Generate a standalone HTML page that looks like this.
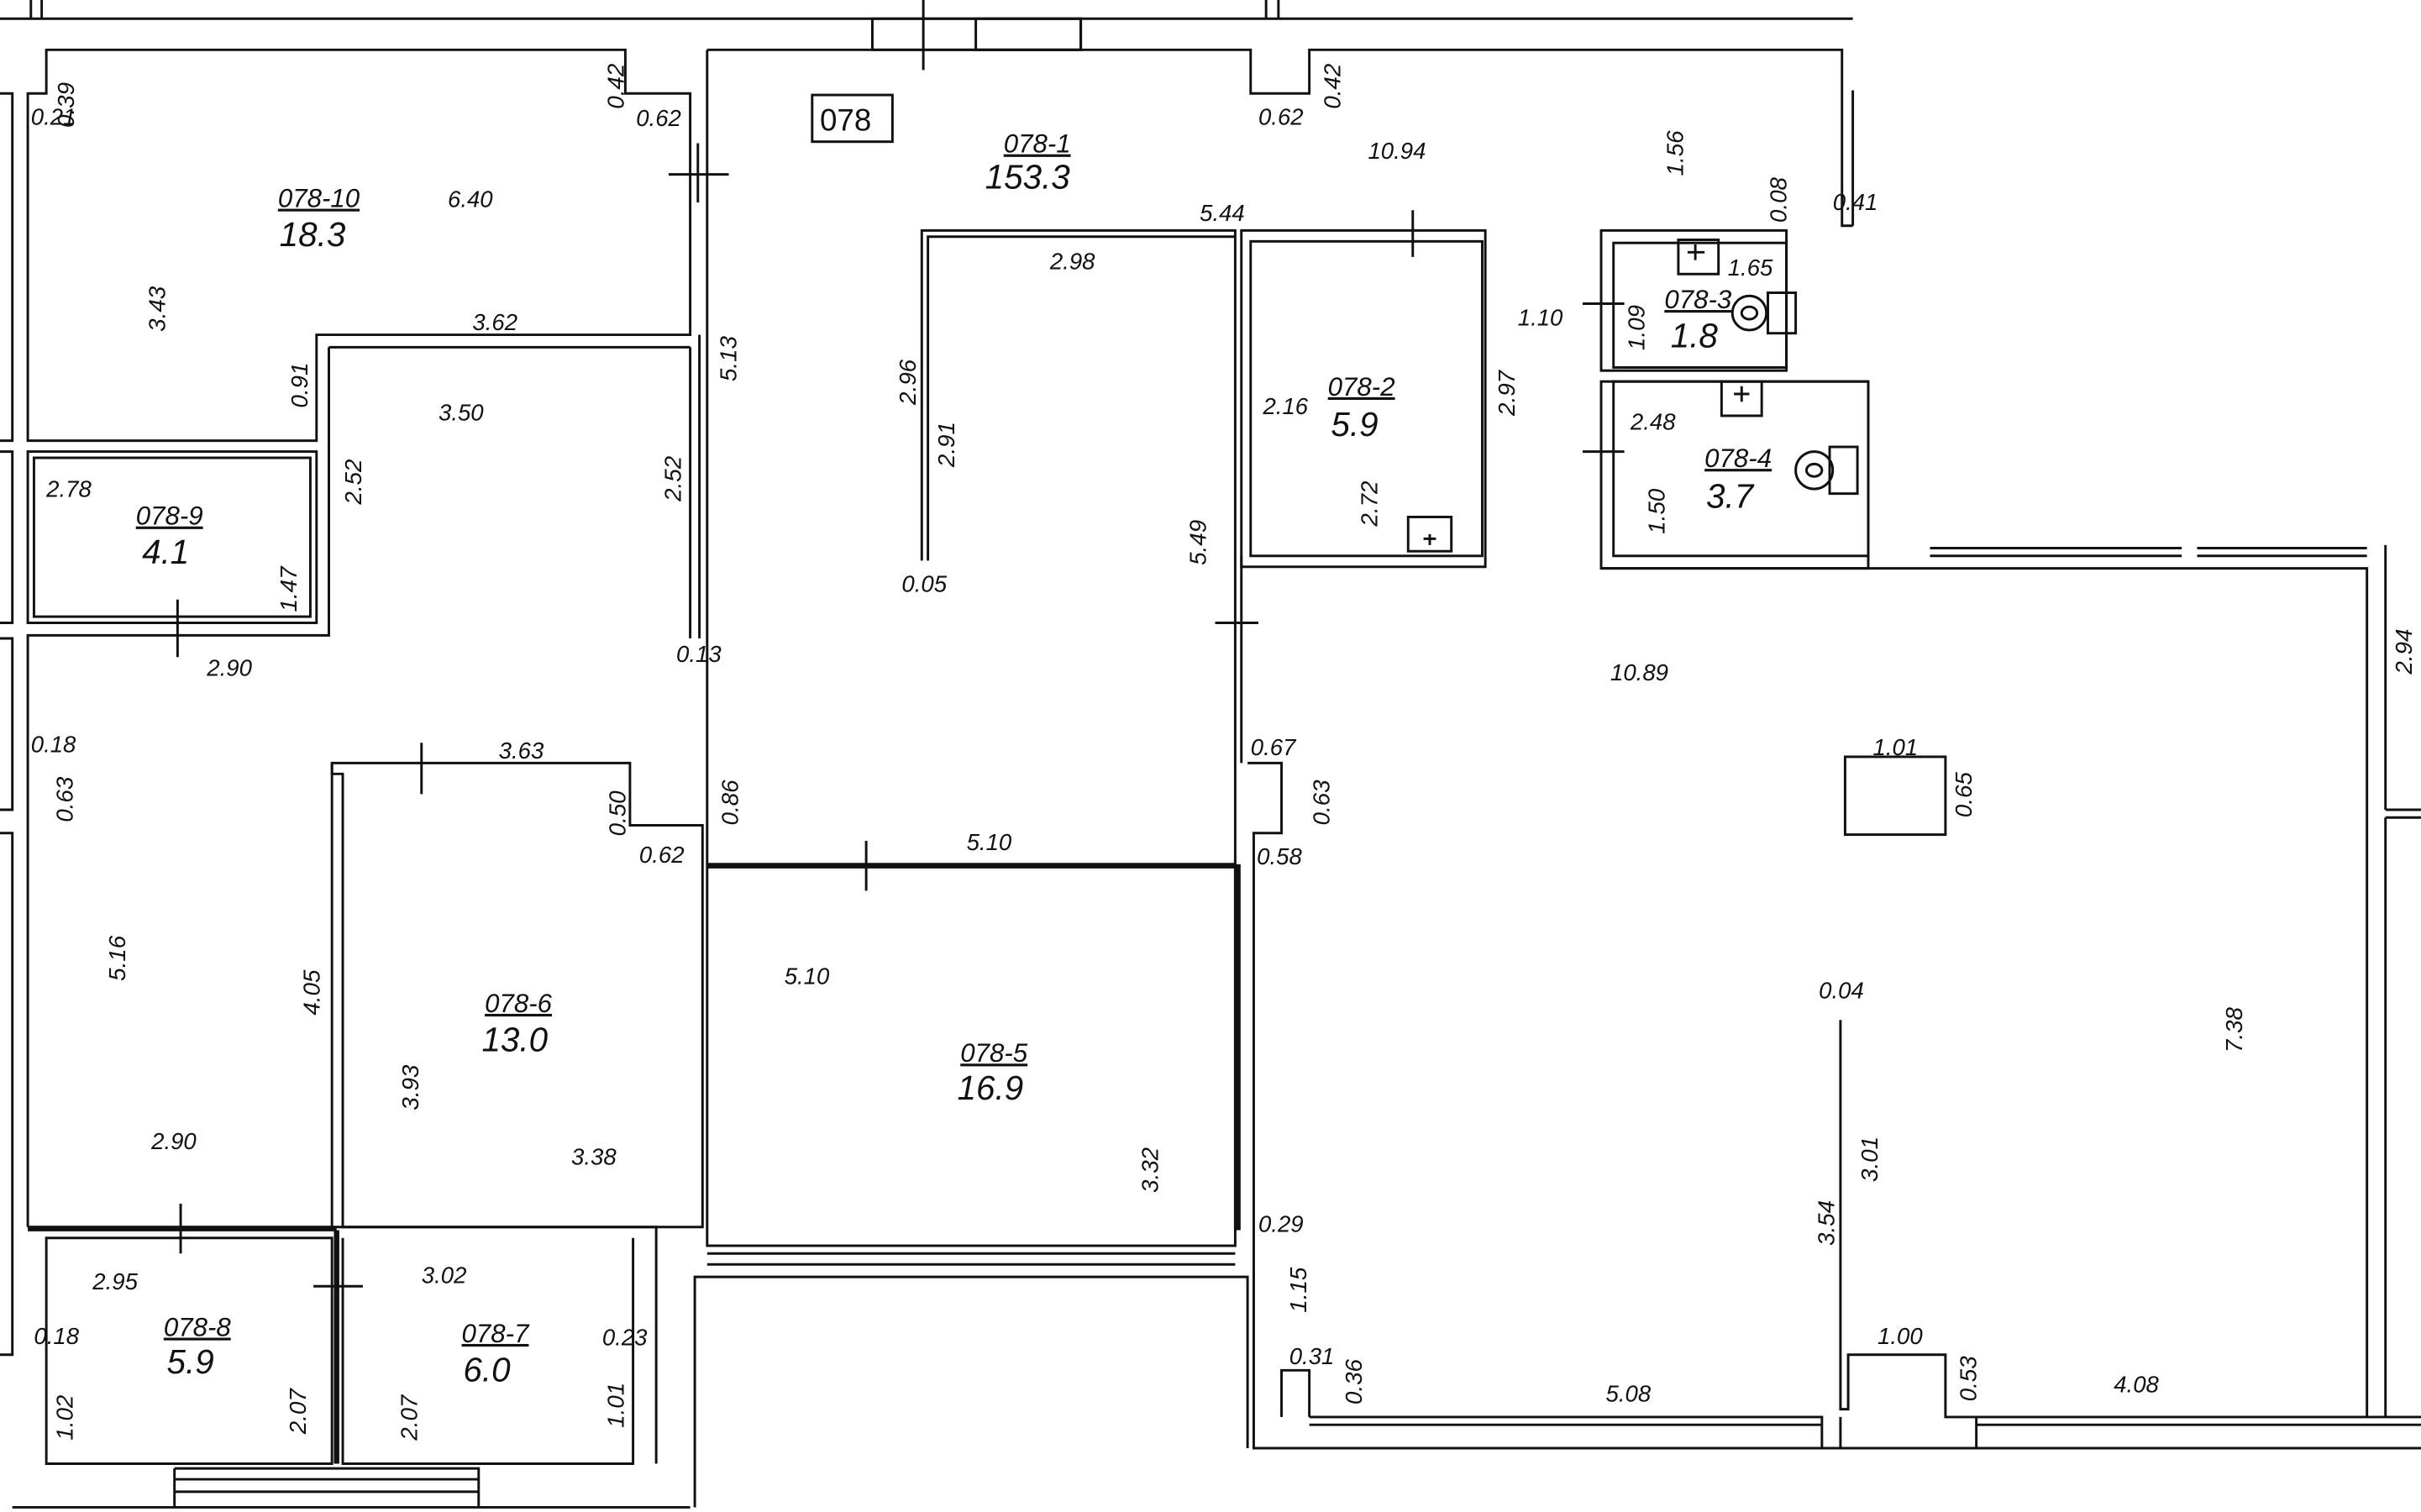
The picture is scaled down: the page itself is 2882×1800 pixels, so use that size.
<!DOCTYPE html>
<html><head><meta charset="utf-8"><style>
html,body{margin:0;padding:0;background:#fff;}
svg{display:block;}
text{font-family:"Liberation Sans",sans-serif;font-style:italic;fill:#111;}
.d{font-size:15px;}
.n{font-size:17px;text-decoration:underline;}
.a{font-size:22px;}
</style></head><body>
<svg width="2882" height="1800" viewBox="0 0 1568 971" preserveAspectRatio="none" xmlns="http://www.w3.org/2000/svg">
<g fill="none" stroke="#111" stroke-width="1.6">
<!-- top outer -->
<line x1="0" y1="12" x2="1200" y2="12"/>
<line x1="20" y1="0" x2="20" y2="12"/><line x1="27" y1="0" x2="27" y2="12"/>
<line x1="820" y1="0" x2="820" y2="12"/><line x1="828" y1="0" x2="828" y2="12"/>
<rect x="565" y="12" width="135" height="20"/>
<rect x="632" y="12" width="68" height="20"/>
<!-- left outer strips -->
<path d="M0 60 H8 V283 H0"/><path d="M0 290 H8 V400 H0"/><path d="M0 410 H8 V520 H0"/><path d="M0 535 H8 V870 H0"/>
<!-- 078-10 -->
<path d="M30 32 H405 V60 H447 V215 H205 V283 H18 V60 H30 Z"/>
<path d="M213 223 H447"/>
<!-- 078-9 -->
<rect x="18" y="290" width="187" height="110"/>
<rect x="22" y="294" width="179" height="102"/>
<!-- corridor -->
<path d="M213 223 V408 H18 V788"/>
<path d="M447 223 V410"/><path d="M458 32 V555"/><path d="M453 215 V410"/>
<!-- 078-1 top -->
<path d="M458 32 H810 V60 H848 V32 H1193 V145 H1200"/>
<path d="M1200 58 V145"/>
<!-- inner 078-1 -->
<path d="M597 360 V148 H800 V555"/><path d="M601 360 V152 H800"/>
<path d="M804 357 V490"/>
<!-- 078-2 -->
<rect x="804" y="148" width="158" height="216"/>
<rect x="810" y="155" width="150" height="202"/>
<rect x="912" y="332" width="28" height="22"/>
<!-- 078-3, 4 -->
<rect x="1037" y="148" width="120" height="90"/>
<rect x="1045" y="156" width="112" height="80"/>
<rect x="1087" y="154" width="26" height="22"/>
<rect x="1037" y="245" width="173" height="120"/>
<rect x="1045" y="245" width="165" height="112"/>
<rect x="1115" y="245" width="26" height="22"/>
<rect x="1185" y="287" width="18" height="30"/>
<ellipse cx="1175" cy="302" rx="12" ry="12"/><ellipse cx="1175" cy="302" rx="5" ry="4"/>
<rect x="1145" y="188" width="18" height="26"/>
<ellipse cx="1133" cy="201" rx="11" ry="11"/><ellipse cx="1133" cy="201" rx="5" ry="4"/>
<!-- big room -->
<path d="M1037 365 H1533 V910"/>
<path d="M1250 352 H1413 M1250 357 H1413 M1423 352 H1533 M1423 357 H1533"/>
<path d="M1545 350 V520 M1545 525 V910"/>
<path d="M1545 520 H1568 M1545 525 H1568"/>
<path d="M808 490 H830 V535 H812 V930 H1568"/>
<path d="M848 910 H1180 V930 M1192 930 V910 M1192 655 V905 H1197 V870 H1260 V910 H1568"/>
<path d="M848 915 H1180 M1280 915 H1568 M1280 910 V930"/>
<rect x="1195" y="486" width="65" height="50"/>
<path d="M830 910 V880 H848 V910"/>
<!-- 078-5 -->
<path d="M458 555 H800"/>
<line x1="458" y1="556" x2="800" y2="556" stroke-width="3.5"/>
<path d="M800 555 V790"/><line x1="802" y1="555" x2="802" y2="790" stroke-width="3"/>
<rect x="458" y="555" width="342" height="245"/>
<path d="M458 805 H800 M458 812 H800"/>
<path d="M450 968 V820 H808 V930"/>
<!-- 078-6 -->
<path d="M215 490 H408 V530 H455 V788 H222 V497 H215 Z"/>
<path d="M215 490 V788"/>
<!-- 078-8, 7 -->
<path d="M18 788 H425 V940"/>
<line x1="18" y1="789" x2="218" y2="789" stroke-width="3.5"/>
<path d="M30 795 H215 V940 H30 Z"/>
<line x1="218" y1="790" x2="218" y2="940" stroke-width="3.5"/>
<path d="M222 795 V940 H410 V795"/>
<path d="M8 968 H447 M113 943 H310 V968 M113 943 V968 M113 950 H310 M113 958 H310"/>
<!-- door ticks -->
<path d="M433 112 H472 M452 92 V130 M598 0 V45 M915 135 V165 M1025 195 H1052 M1025 290 H1052 M787 400 H815 M115 385 V422 M273 477 V510 M561 540 V572 M117 773 V805 M203 826 H235"/>
<path d="M1098 157 V167 M1093 162 H1104 M1128 248 V258 M1123 253 H1133 M926 343 V350 M922 346 H930"/>
</g>
<rect x="526" y="61" width="52" height="30" fill="none" stroke="#111" stroke-width="1.6"/>
<text x="531" y="84" style="font-size:20px;font-style:normal">078</text>
<!-- room labels -->
<text class="n" x="180" y="133">078-10</text><text class="a" x="181" y="158">18.3</text>
<text class="n" x="650" y="98">078-1</text><text class="a" x="638" y="121">153.3</text>
<text class="n" x="860" y="254">078-2</text><text class="a" x="862" y="280">5.9</text>
<text class="n" x="1078" y="198">078-3</text><text class="a" x="1082" y="223">1.8</text>
<text class="n" x="1104" y="300">078-4</text><text class="a" x="1105" y="326">3.7</text>
<text class="n" x="88" y="337">078-9</text><text class="a" x="92" y="362">4.1</text>
<text class="n" x="314" y="650">078-6</text><text class="a" x="312" y="675">13.0</text>
<text class="n" x="622" y="682">078-5</text><text class="a" x="620" y="706">16.9</text>
<text class="n" x="106" y="858">078-8</text><text class="a" x="108" y="882">5.9</text>
<text class="n" x="299" y="862">078-7</text><text class="a" x="300" y="887">6.0</text>
<!-- dims horizontal -->
<g class="d">
<text x="20" y="80">0.21</text><text x="412" y="81">0.62</text><text x="290" y="133">6.40</text>
<text x="306" y="212">3.62</text><text x="284" y="270">3.50</text><text x="30" y="319">2.78</text>
<text x="134" y="434">2.90</text><text x="438" y="425">0.13</text><text x="584" y="380">0.05</text>
<text x="680" y="173">2.98</text><text x="777" y="142">5.44</text><text x="815" y="80">0.62</text>
<text x="886" y="102">10.94</text><text x="1187" y="135">0.41</text><text x="1119" y="177">1.65</text>
<text x="983" y="209">1.10</text><text x="818" y="266">2.16</text><text x="1056" y="276">2.48</text>
<text x="1043" y="437">10.89</text><text x="1213" y="485">1.01</text><text x="810" y="485">0.67</text>
<text x="814" y="555">0.58</text><text x="20" y="483">0.18</text><text x="323" y="487">3.63</text>
<text x="414" y="554">0.62</text><text x="626" y="546">5.10</text><text x="508" y="632">5.10</text>
<text x="1178" y="641">0.04</text><text x="370" y="748">3.38</text><text x="98" y="738">2.90</text>
<text x="60" y="828">2.95</text><text x="273" y="824">3.02</text><text x="22" y="863">0.18</text>
<text x="390" y="864">0.23</text><text x="815" y="791">0.29</text><text x="835" y="876">0.31</text>
<text x="1216" y="863">1.00</text><text x="1040" y="900">5.08</text><text x="1369" y="894">4.08</text>
</g>
<!-- dims vertical -->
<g class="d">
<text transform="translate(48,82) rotate(-90)">0.39</text>
<text transform="translate(404,70) rotate(-90)">0.42</text>
<text transform="translate(868,70) rotate(-90)">0.42</text>
<text transform="translate(107,213) rotate(-90)">3.43</text>
<text transform="translate(199,262) rotate(-90)">0.91</text>
<text transform="translate(234,324) rotate(-90)">2.52</text>
<text transform="translate(441,322) rotate(-90)">2.52</text>
<text transform="translate(477,245) rotate(-90)">5.13</text>
<text transform="translate(593,260) rotate(-90)">2.96</text>
<text transform="translate(618,300) rotate(-90)">2.91</text>
<text transform="translate(781,363) rotate(-90)">5.49</text>
<text transform="translate(892,338) rotate(-90)">2.72</text>
<text transform="translate(981,267) rotate(-90)">2.97</text>
<text transform="translate(1090,113) rotate(-90)">1.56</text>
<text transform="translate(1157,143) rotate(-90)">0.08</text>
<text transform="translate(1065,225) rotate(-90)">1.09</text>
<text transform="translate(1078,343) rotate(-90)">1.50</text>
<text transform="translate(192,393) rotate(-90)">1.47</text>
<text transform="translate(1562,433) rotate(-90)">2.94</text>
<text transform="translate(1277,525) rotate(-90)">0.65</text>
<text transform="translate(861,530) rotate(-90)">0.63</text>
<text transform="translate(47,528) rotate(-90)">0.63</text>
<text transform="translate(405,537) rotate(-90)">0.50</text>
<text transform="translate(478,530) rotate(-90)">0.86</text>
<text transform="translate(81,630) rotate(-90)">5.16</text>
<text transform="translate(207,652) rotate(-90)">4.05</text>
<text transform="translate(271,713) rotate(-90)">3.93</text>
<text transform="translate(750,766) rotate(-90)">3.32</text>
<text transform="translate(1452,676) rotate(-90)">7.38</text>
<text transform="translate(1216,759) rotate(-90)">3.01</text>
<text transform="translate(1188,800) rotate(-90)">3.54</text>
<text transform="translate(846,843) rotate(-90)">1.15</text>
<text transform="translate(882,902) rotate(-90)">0.36</text>
<text transform="translate(1280,900) rotate(-90)">0.53</text>
<text transform="translate(47,925) rotate(-90)">1.02</text>
<text transform="translate(198,921) rotate(-90)">2.07</text>
<text transform="translate(270,925) rotate(-90)">2.07</text>
<text transform="translate(404,917) rotate(-90)">1.01</text>
</g>
</svg>
</body></html>
